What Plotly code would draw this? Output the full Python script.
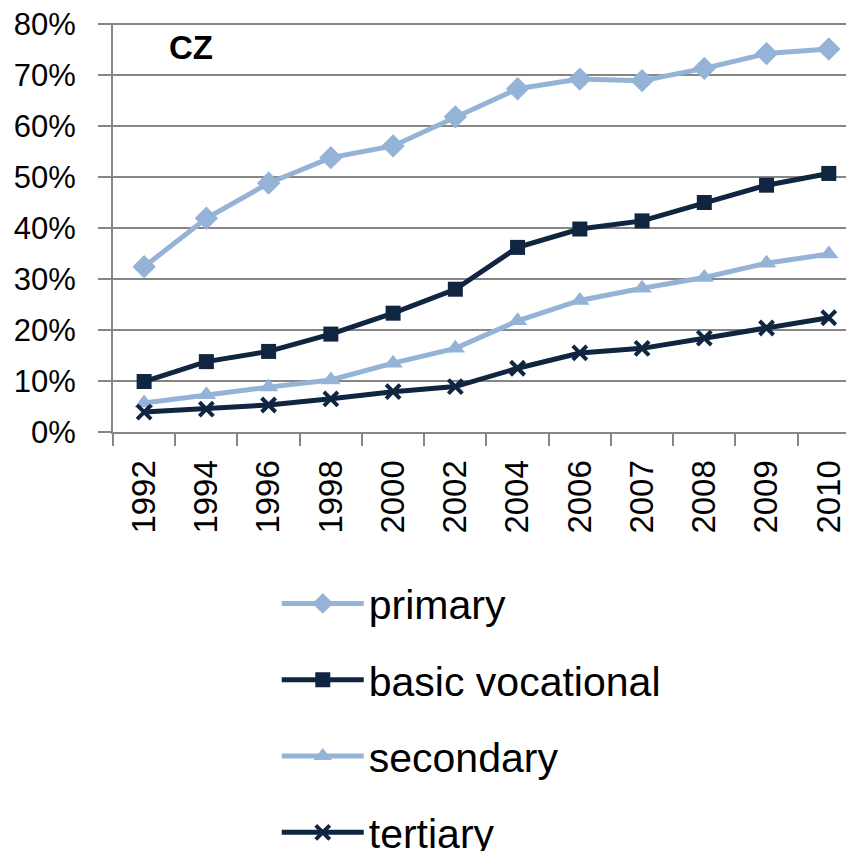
import plotly.graph_objects as go

years = ["1992", "1994", "1996", "1998", "2000", "2002", "2004", "2006", "2007", "2008", "2009", "2010"]
primary = [32.4, 41.9, 48.8, 53.8, 56.1, 61.8, 67.3, 69.2, 68.9, 71.3, 74.2, 75.1]
basic_vocational = [9.9, 13.8, 15.8, 19.2, 23.3, 28.0, 36.2, 39.8, 41.4, 45.0, 48.4, 50.7]
secondary = [5.7, 7.3, 8.8, 10.2, 13.5, 16.4, 21.8, 25.8, 28.2, 30.3, 33.1, 34.9]
tertiary = [3.9, 4.5, 5.3, 6.5, 7.9, 8.9, 12.5, 15.5, 16.4, 18.4, 20.4, 22.4]
y_ticks = [0, 10, 20, 30, 40, 50, 60, 70, 80]

LIGHT = "#95B3D7"
NAVY = "#10253F"
GRID = "#868686"

fig = go.Figure()
series = [
    ("primary", primary, LIGHT, "diamond", 18),
    ("basic vocational", basic_vocational, NAVY, "square", 15),
    ("secondary", secondary, LIGHT, "triangle-up", 17),
    ("tertiary", tertiary, NAVY, "x-thin", 14),
]
for i, (name, vals, col, sym, sz) in enumerate(series):
    mk = dict(symbol=sym, size=sz, color=col)
    if sym == "x-thin":
        mk["line"] = dict(color=col, width=4)
    fig.add_trace(go.Scatter(
        x=years, y=vals, name=name, mode="lines+markers",
        line=dict(color=col, width=5), marker=mk,
        legendgroup=f"g{i}", cliponaxis=False,
    ))

fig.update_layout(
    width=846, height=843,
    margin=dict(l=105, r=0, t=14.5, b=418.7, autoexpand=False),
    paper_bgcolor="white", plot_bgcolor="white",
    font=dict(family="Liberation Sans, Arial, sans-serif", color="black"),
    showlegend=True,
    legend=dict(
        x=0.221, y=-0.338, xanchor="left", yanchor="top",
        font=dict(size=41, family="Liberation Sans, Arial, sans-serif"),
        traceorder="grouped", tracegroupgap=20, itemwidth=82,
        bgcolor="rgba(0,0,0,0)",
    ),
    xaxis=dict(
        type="category", range=[-0.5, 11.405],
        showgrid=False, showline=True, linecolor=GRID, linewidth=2,
        ticks="outside", ticklen=12, tickcolor=GRID, tickwidth=2,
        tickson="boundaries", tickangle=-90, ticklabelstandoff=13,
        tickfont=dict(size=33), automargin=False,
    ),
    yaxis=dict(
        range=[0, 80.2], tickmode="array", tickvals=y_ticks,
        ticktext=[f"{v}%" for v in y_ticks],
        showgrid=True, gridcolor=GRID, gridwidth=2,
        showline=True, linecolor=GRID, linewidth=2,
        ticks="outside", ticklen=13, tickcolor=GRID, tickwidth=2,
        ticklabelstandoff=16, ticklabeloverflow="allow",
        tickfont=dict(size=31), zeroline=False, automargin=False,
    ),
    annotations=[dict(
        text="<b>CZ</b>", xref="paper", yref="paper",
        x=0.073, y=0.94, xanchor="left", yanchor="middle",
        showarrow=False, font=dict(size=33, color="black"),
    )],
)

fig.write_html("out.html")
